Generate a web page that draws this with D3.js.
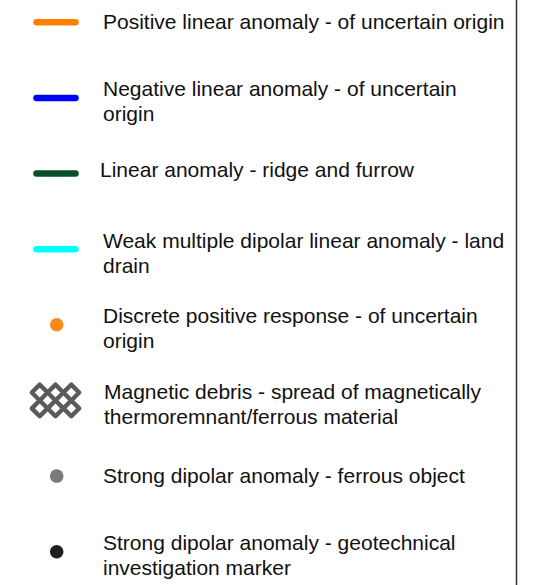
<!DOCTYPE html>
<html>
<head>
<meta charset="utf-8">
<script src="https://cdn.jsdelivr.net/npm/d3@7"></script>
<style>
  body { margin: 0; background: #fff; }
  svg { display: block; }
  text { font-family: "Liberation Sans", Arial, sans-serif; font-size: 21px; fill: #111; }
</style>
</head>
<body>
<div id="legend"></div>
<script>
"use strict";

// legend entries
var labels = [
    ["Positive linear anomaly - of uncertain origin"],
    ["Negative linear anomaly - of uncertain", "origin"],
    ["Linear anomaly - ridge and furrow"],
    ["Weak multiple dipolar linear anomaly - land", "drain"],
    ["Discrete positive response - of uncertain", "origin"],
    ["Magnetic debris - spread of magnetically", "thermoremnant/ferrous material"],
    ["Strong dipolar anomaly - ferrous object"],
    ["Strong dipolar anomaly - geotechnical", "investigation marker"]
];
var symbols = ["line", "line", "line", "line", "dot", "hatch", "dot", "dot"];
var colours = ["#ff8000", "#0000ff", "#0a4f2c", "#00ffff", "#ff8a1c", "#5a5a5a", "#7a7a7a", "#1e1e1e"];

var width = 538;
var height = 585;

var svg = d3.select("#legend")
    .append("svg")
    .attr("width", width)
    .attr("height", height);

// one row per entry
var y = d3.scaleLinear()
    .domain([0, labels.length - 1])
    .range([22.3, 551.7]);

var symX = 56;
var textX = 103;
var lineGap = 25;

var rows = svg.selectAll("g.row")
    .data(labels)
    .enter()
    .append("g")
    .attr("class", "row")
    .attr("transform", function(d, i) { return "translate(0," + y(i) + ")"; });

rows.each(function(d, i) {
    var g = d3.select(this);
    var kind = symbols[i];
    if (kind === "line") {
        g.append("line")
            .attr("x1", symX - 19.5)
            .attr("x2", symX + 19.5)
            .attr("y1", 0)
            .attr("y2", 0)
            .attr("stroke", colours[i])
            .attr("stroke-width", 6.5)
            .attr("stroke-linecap", "round");
    } else if (kind === "dot") {
        g.append("circle")
            .attr("cx", symX + 0.7)
            .attr("cy", 0)
            .attr("r", 6.8)
            .attr("fill", colours[i]);
    } else if (kind === "hatch") {
        // diamond lattice, 3 x 2
        var s = 7.9;
        var cells = [];
        [-1, 1].forEach(function(r) {
            [-1, 0, 1].forEach(function(c) {
                cells.push([symX - 0.5 + c * 2 * s, r * s]);
            });
        });
        g.selectAll("path.cell")
            .data(cells)
            .enter()
            .append("path")
            .attr("class", "cell")
            .attr("d", function(p) {
                return "M" + (p[0] - s) + "," + p[1] +
                       "L" + p[0] + "," + (p[1] - s) +
                       "L" + (p[0] + s) + "," + p[1] +
                       "L" + p[0] + "," + (p[1] + s) + "Z";
            })
            .attr("fill", "none")
            .attr("stroke", colours[i])
            .attr("stroke-width", 4.4)
            .attr("stroke-linejoin", "round");
    }

    var first = d.length > 1 ? -1.5 : 7;
    if (i === 2) { first = 3; }
    g.selectAll("text")
        .data(d)
        .enter()
        .append("text")
        .attr("x", i === 2 ? textX - 3 : (i === 5 ? textX + 1 : textX))
        .attr("y", function(t, k) { return first + k * lineGap; })
        .text(function(t) { return t; });
});

// right frame line
svg.append("line")
    .attr("x1", 516.5)
    .attr("x2", 516.5)
    .attr("y1", 0)
    .attr("y2", height)
    .attr("stroke", "#333")
    .attr("stroke-width", 1.5);
</script>
</body>
</html>
